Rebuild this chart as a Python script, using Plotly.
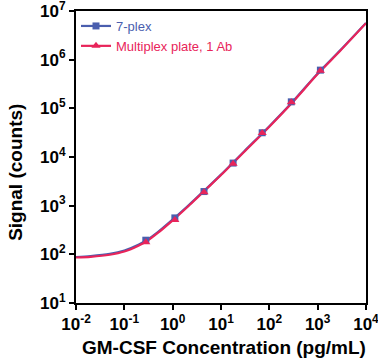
import plotly.graph_objects as go

# Measured standards (4-fold dilution series)
conc = [0.278, 1.11, 4.45, 17.8, 71.2, 285, 1140]
signal_7plex = [195, 560, 1950, 7500, 31500, 136000, 610000]
signal_1ab = [178, 510, 1880, 7300, 31000, 133000, 590000]

# Fitted curves
fit_conc = [0.01, 0.02, 0.05, 0.1, 0.2, 0.3, 0.5, 1, 2, 3, 5, 10, 30, 100, 300, 1000, 3000, 10000]
fit_7plex = [88, 92, 102, 120, 160, 200, 290, 520, 960, 1400, 2250, 4350, 13000, 43000, 135000, 520000, 1600000, 5700000]
fit_1ab = [86, 89, 98, 114, 152, 190, 278, 500, 930, 1360, 2200, 4250, 12700, 42000, 132000, 505000, 1560000, 5600000]

# Axis ticks
x_tickvals = [0.01, 0.1, 1, 10, 100, 1000, 10000]
x_ticktext = ["10<sup>-2</sup>", "10<sup>-1</sup>", "10<sup>0</sup>", "10<sup>1</sup>",
              "10<sup>2</sup>", "10<sup>3</sup>", "10<sup>4</sup>"]
y_tickvals = [10, 100, 1000, 10000, 100000, 1000000, 10000000]
y_ticktext = ["10<sup>1</sup>", "10<sup>2</sup>", "10<sup>3</sup>", "10<sup>4</sup>",
              "10<sup>5</sup>", "10<sup>6</sup>", "10<sup>7</sup>"]

BLUE = "#4a5eae"
RED = "#e8245a"
FONT = "Liberation Sans, Arial, sans-serif"

fig = go.Figure()
fig.add_trace(go.Scatter(x=fit_conc, y=fit_7plex, mode="lines", line=dict(color=BLUE, width=2.2, shape="spline", smoothing=0.8),
                         showlegend=False, hoverinfo="skip"))
fig.add_trace(go.Scatter(x=fit_conc, y=fit_1ab, mode="lines", line=dict(color=RED, width=2.2, shape="spline", smoothing=0.8),
                         showlegend=False, hoverinfo="skip"))
fig.add_trace(go.Scatter(x=conc, y=signal_7plex, mode="markers", marker=dict(symbol="square", size=7, color=BLUE),
                         showlegend=False))
fig.add_trace(go.Scatter(x=conc, y=signal_1ab, mode="markers", marker=dict(symbol="triangle-up", size=8, color=RED),
                         showlegend=False))
# legend entries
fig.add_trace(go.Scatter(x=[None], y=[None], mode="lines+markers",
                         line=dict(color=BLUE, width=2.2), marker=dict(symbol="square", size=7, color=BLUE),
                         name="<span style='color:%s'>7-plex</span>" % BLUE))
fig.add_trace(go.Scatter(x=[None], y=[None], mode="lines+markers",
                         line=dict(color=RED, width=2.2), marker=dict(symbol="triangle-up", size=8, color=RED),
                         name="<span style='color:%s'>Multiplex plate, 1 Ab</span>" % RED))

axis_common = dict(type="log", tickmode="array", showgrid=False, zeroline=False, automargin=False,
                   showline=True, linecolor="black", linewidth=2, mirror=True,
                   ticks="outside", ticklen=5, tickwidth=2, tickcolor="black",
                   ticklabeloverflow="allow",
                   tickfont=dict(family=FONT, size=17, color="black", weight="bold"))

title_font = dict(family=FONT, size=19, color="black", weight="bold")

fig.update_layout(
    width=378, height=362,
    margin=dict(l=76, r=12, t=11, b=59),
    paper_bgcolor="white", plot_bgcolor="white",
    xaxis=dict(range=[-2.0005, 4.0005], tickvals=x_tickvals, ticktext=x_ticktext, **axis_common),
    yaxis=dict(range=[0.9995, 7.0005], tickvals=y_tickvals, ticktext=y_ticktext, **axis_common),
    legend=dict(x=0.0, y=1.0, xanchor="left", yanchor="top", bgcolor="rgba(0,0,0,0)",
                font=dict(family=FONT, size=13), itemwidth=30, tracegroupgap=0),
    showlegend=True,
    annotations=[
        dict(text="GM-CSF Concentration (pg/mL)", xref="paper", yref="paper", x=0.509, y=-0.151,
             xanchor="center", yanchor="middle", showarrow=False, font=title_font),
        dict(text="Signal (counts)", xref="paper", yref="paper", x=-0.207, y=0.449,
             xanchor="center", yanchor="middle", showarrow=False, textangle=-90, font=title_font),
    ],
)

fig.write_html("out.html", config={"displayModeBar": False},
               post_script="document.body.style.margin='0';")
